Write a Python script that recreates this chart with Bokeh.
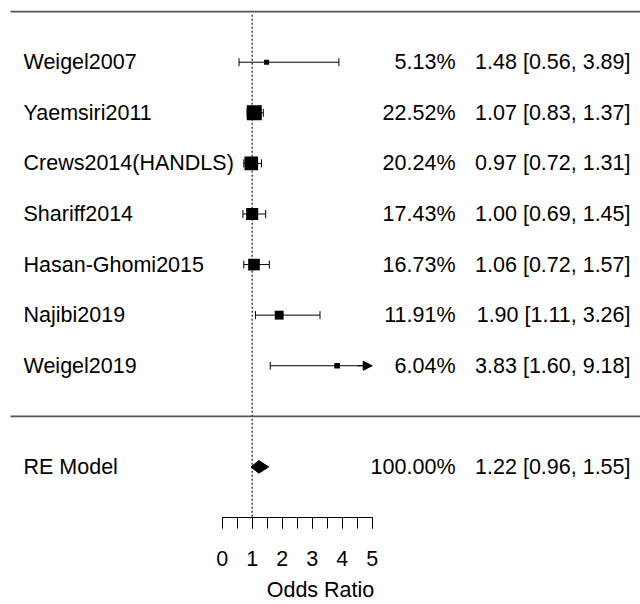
from bokeh.plotting import figure
from bokeh.models import Range1d, FixedTicker, Arrow, NormalHead
from bokeh.core.properties import value
from bokeh.embed import file_html
from bokeh.resources import INLINE

# Study data (odds ratios with 95% CI and random-effects weights)
studies = ["Weigel2007", "Yaemsiri2011", "Crews2014(HANDLS)", "Shariff2014",
           "Hasan-Ghomi2015", "Najibi2019", "Weigel2019"]
weights = [5.13, 22.52, 20.24, 17.43, 16.73, 11.91, 6.04]
odds = [1.48, 1.07, 0.97, 1.00, 1.06, 1.90, 3.83]
lower = [0.56, 0.83, 0.72, 0.69, 0.72, 1.11, 1.60]
upper = [3.89, 1.37, 1.31, 1.45, 1.57, 3.26, 9.18]

model_label = "RE Model"
model_weight = 100.00
model_est = 1.22
model_lower = 0.96
model_upper = 1.55

tick_values = [0, 1, 2, 3, 4, 5]
ref_line = 1
axis_title = "Odds Ratio"

FONT = "Liberation Sans"
FS = "21.5px"

W, H = 640, 604
BOTTOM = 87
X0_PX = 221.7          # screen position of OR = 0
PX_PER_UNIT = 30.0
x_start = -X0_PX / PX_PER_UNIT
x_end = (W - X0_PX) / PX_PER_UNIT


def px_x(px):
    return (px - X0_PX) / PX_PER_UNIT


y_lo, y_hi = -2.0, 8.22
row_px = (H - BOTTOM) / (y_hi - y_lo)


def py(px):
    return px / row_px


p = figure(width=W, height=H, output_backend="svg", toolbar_location=None,
           x_range=Range1d(x_start, x_end), y_range=Range1d(y_lo, y_hi),
           y_axis_location=None, x_axis_location="below",
           min_border_left=0, min_border_right=0, min_border_top=0,
           min_border_bottom=BOTTOM)
p.outline_line_color = None
p.xgrid.visible = False
p.ygrid.visible = False
p.background_fill_color = "white"
p.border_fill_color = "white"

n = len(studies)
rows = [n - i for i in range(n)]
alim = max(tick_values)

# horizontal rules
rule_x0 = px_x(10)
p.segment(x0=[rule_x0, rule_x0], x1=[x_end, x_end], y0=[n + 1, 0], y1=[n + 1, 0],
          line_color="#555555", line_width=1.6)

# reference line at OR = 1
p.segment(x0=[ref_line], x1=[ref_line], y0=[n + 1 - py(3)], y1=[y_lo],
          line_color="#444444", line_width=1.5, line_dash="2 2")

# confidence intervals
hi_clip = [min(u, alim) for u in upper]
p.segment(x0=lower, x1=hi_clip, y0=rows, y1=rows, line_color="black", line_width=1)
cap = py(4)
p.segment(x0=lower, x1=lower, y0=[r - cap for r in rows], y1=[r + cap for r in rows],
          line_color="black", line_width=1)
cap_x = [u for u in upper if u <= alim]
cap_y = [r for r, u in zip(rows, upper) if u <= alim]
p.segment(x0=cap_x, x1=cap_x, y0=[r - cap for r in cap_y], y1=[r + cap for r in cap_y],
          line_color="black", line_width=1)
for r, lo, u in zip(rows, lower, upper):
    if u > alim:
        p.add_layout(Arrow(end=NormalHead(size=9, fill_color="black", line_color="black",
                                          line_width=1),
                           x_start=alim - 0.5, y_start=r, x_end=alim, y_end=r,
                           line_color="black", line_width=1))

# point estimates, square size scaled by weight
wmin, wmax = min(weights), max(weights)
sizes = [5 + (w - wmin) / (wmax - wmin) * 10 for w in weights]
p.scatter(x=odds, y=rows, size=sizes, marker="square", fill_color="black",
          line_color="black", line_width=0)

# pooled estimate diamond
dh = py(6.3)
p.patch(x=[model_lower, model_est, model_upper, model_est],
        y=[-1, -1 + dh, -1, -1 - dh], fill_color="black", line_color="black")

# text columns
labels = studies + [model_label]
label_rows = rows + [-1]
pct = [f"{w:.2f}%" for w in weights] + [f"{model_weight:.2f}%"]
ci = [f"{o:.2f} [{lo:.2f}, {u:.2f}]" for o, lo, u in zip(odds, lower, upper)] + \
     [f"{model_est:.2f} [{model_lower:.2f}, {model_upper:.2f}]"]

p.text(x=[px_x(23)] * len(labels), y=label_rows, text=labels, text_font=value(FONT),
       text_font_size=FS, text_align="left", text_baseline="middle", text_color="black")
p.text(x=[px_x(455)] * len(pct), y=label_rows, text=pct, text_font=value(FONT),
       text_font_size=FS, text_align="right", text_baseline="middle", text_color="black")
p.text(x=[px_x(630)] * len(ci), y=label_rows, text=ci, text_font=value(FONT),
       text_font_size=FS, text_align="right", text_baseline="middle", text_color="black")

# x axis
ax = p.xaxis[0]
ax.bounds = (min(tick_values), max(tick_values))
ax.ticker = FixedTicker(ticks=tick_values,
                        minor_ticks=[t / 2 for t in range(0, 2 * max(tick_values) + 1)])
ax.axis_line_color = "black"
ax.axis_line_width = 1
ax.major_tick_in = 0
ax.major_tick_out = 11
ax.minor_tick_in = 0
ax.minor_tick_out = 11
ax.major_tick_line_color = "black"
ax.minor_tick_line_color = "black"
ax.major_label_text_font = FONT
ax.major_label_text_font_size = FS
ax.major_label_text_color = "black"
ax.major_label_standoff = 22
ax.axis_label = axis_title
ax.axis_label_text_font = FONT
ax.axis_label_text_font_size = FS
ax.axis_label_text_font_style = "normal"
ax.axis_label_text_color = "black"
ax.axis_label_standoff = 9

open("out.html", "w").write(file_html(p, INLINE))
